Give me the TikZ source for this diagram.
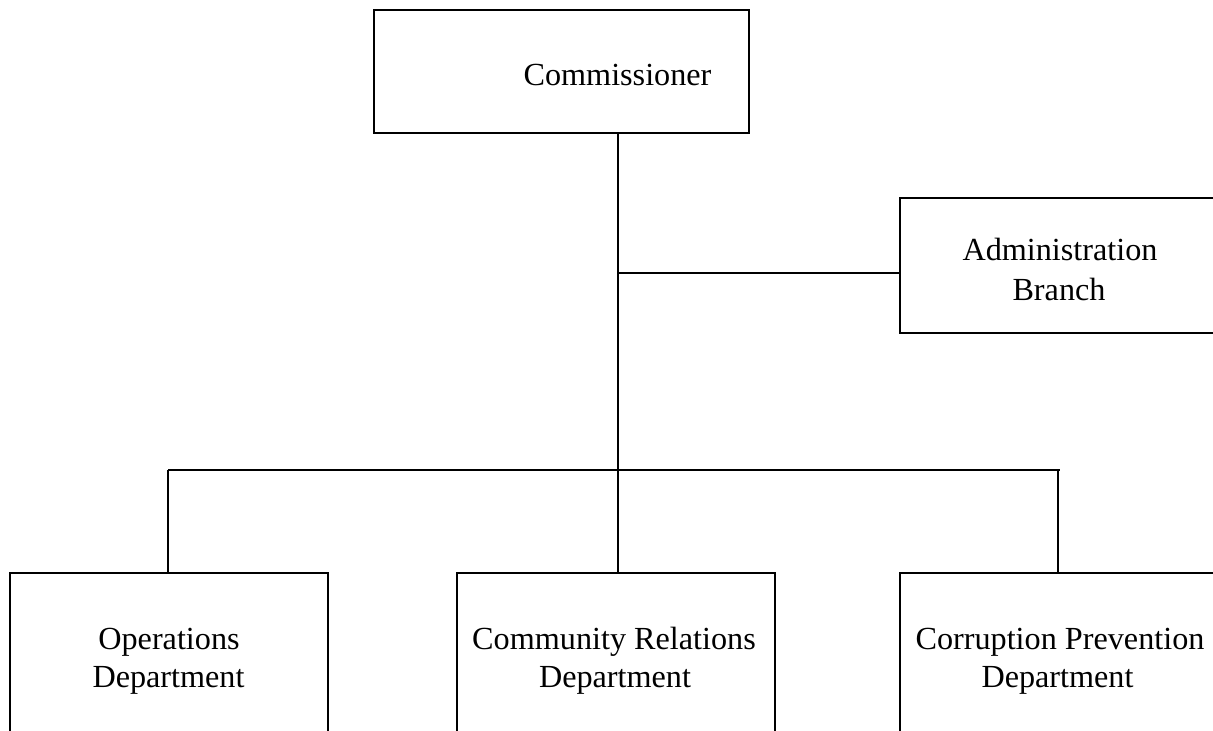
\documentclass[tikz,border=0pt]{standalone}
\usepackage{fontspec}
\setmainfont{Liberation Serif}
\begin{document}
\begin{tikzpicture}[x=1pt,y=-1pt,
  box/.style={draw,line width=1.4pt,rectangle,inner sep=0pt},
  lbl/.style={anchor=base,inner sep=0pt,font=\fontsize{32.2}{38}\selectfont},
  conn/.style={line width=1.4pt}]
\clip (0,0) rectangle (1213,731);
% boxes
\node[box,minimum width=375pt,minimum height=123pt] (comm) at (561.5,71.5) {};
\node[box,minimum width=340pt,minimum height=135pt] (admin) at (1070,265.5) {};
\node[box,minimum width=318pt,minimum height=187pt] (ops) at (169,666.5) {};
\node[box,minimum width=318pt,minimum height=187pt] (comr) at (616,666.5) {};
\node[box,minimum width=340pt,minimum height=187pt] (corr) at (1070,666.5) {};
% labels
\node[lbl] (commt) at (617.5,85) {Commissioner};
\node[lbl] (admint1) at (1060,260) {Administration};
\node[lbl] (admint2) at (1059,300) {Branch};
\node[lbl] (opst1) at (169,649) {Operations};
\node[lbl] (opst2) at (168.5,687) {Department};
\node[lbl] (comrt1) at (614,649) {Community Relations};
\node[lbl] (comrt2) at (615,687) {Department};
\node[lbl] (corrt1) at (1060,649) {Corruption Prevention};
\node[lbl] (corrt2) at (1057.5,687) {Department};
% junctions
\coordinate (top) at (618,133);
\coordinate (j1) at (618,273);
\coordinate (j2) at (618,470);
\coordinate (busL) at (168,470);
\coordinate (busR) at (1060,470);
\coordinate (dR) at (1058,470);
% connectors
\draw[conn] (top) -- (j2);
\draw[conn] (j1) -- (admin.west |- j1);
\draw[conn] (busL) -- (busR);
\draw[conn] (busL) -- (busL |- ops.north);
\draw[conn] (j2) -- (j2 |- comr.north);
\draw[conn] (dR) -- (dR |- corr.north);
\end{tikzpicture}
\end{document}
